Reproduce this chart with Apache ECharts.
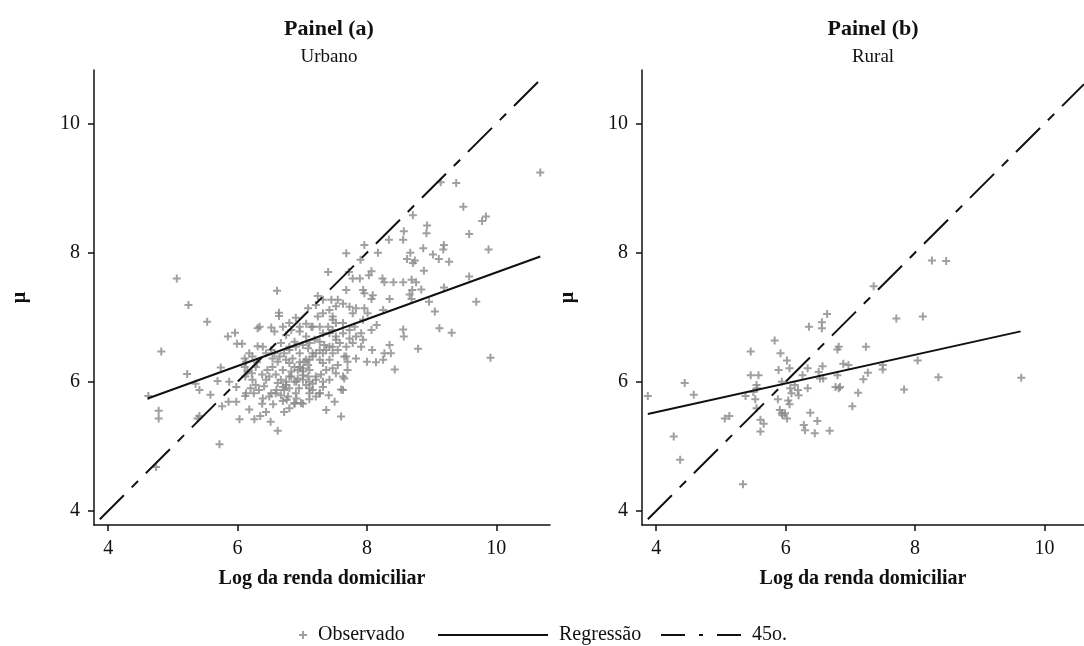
<!DOCTYPE html>
<html>
<head>
<meta charset="utf-8">
<script src="https://cdn.jsdelivr.net/npm/echarts@6/dist/echarts.min.js"></script>
<style>html,body{margin:0;padding:0;background:#fff;}#c{width:1084px;height:646px;}</style>
</head>
<body>
<div id="c"></div>
<script>
// ---- data ----
const panelTitles = ['Painel (a)', 'Painel (b)'];
const panelSubtitles = ['Urbano', 'Rural'];
const xAxisName = 'Log da renda domiciliar';
const yAxisName = 'μ';
const tickValues = [4, 6, 8, 10];
const urbanRange = [3.78, 10.83];
const ruralRange = [3.78, 10.61];

const urbanObserved = [
 [6.12,6.08],[6.23,6.03],[6.28,5.95],[6.20,5.90],[6.25,5.82],[6.33,5.87],[6.38,6.11],[6.44,6.03],[6.49,6.08],[6.46,6.18],
 [6.54,6.23],[6.59,6.11],[6.67,6.03],[6.75,5.95],[6.80,5.90],[6.72,5.87],[6.67,5.79],[6.59,5.82],[6.52,5.82],[6.80,6.08],
 [6.88,6.23],[6.93,6.18],[7.01,6.21],[7.09,6.26],[7.03,6.31],[7.11,6.34],[7.16,6.39],[7.21,6.44],[7.27,6.49],[7.32,6.44],
 [7.37,6.49],[7.42,6.54],[7.34,6.57],[7.27,6.62],[7.19,6.65],[7.11,6.60],[7.01,6.57],[6.90,6.54],[6.80,6.49],[6.72,6.44],
 [6.65,6.39],[6.57,6.44],[6.52,6.49],[6.44,6.44],[6.67,6.60],[6.75,6.72],[6.83,6.80],[6.96,6.85],[7.06,6.90],[7.16,6.85],
 [7.24,7.01],[7.32,7.06],[7.42,7.11],[7.52,7.17],[7.47,7.01],[7.55,7.27],[7.63,7.21],[7.73,7.16],[7.78,7.06],[7.83,7.14],
 [7.81,6.85],[7.73,6.80],[7.63,6.75],[7.52,6.70],[7.58,6.60],[7.47,6.80],[7.40,6.85],[7.32,6.75],[7.27,6.85],[7.01,6.03],
 [7.06,5.95],[7.11,5.90],[7.16,5.97],[7.21,6.03],[7.29,6.11],[7.37,6.18],[7.47,6.21],[7.55,6.26],[6.93,6.05],[6.88,6.00],
 [6.83,6.16],[6.70,6.18],[6.62,6.31],[6.54,6.36],[6.28,6.23],[6.15,6.16],[7.47,6.44],[7.55,6.49],[7.68,6.54],[7.78,6.60],
 [7.83,6.70],[7.91,6.54],[7.73,6.67],[7.63,6.91],[7.52,6.91],[7.94,6.96],[7.96,7.14],[8.01,7.06],[7.42,6.34],[7.32,6.29],
 [7.11,6.18],[6.96,6.44],[6.85,6.36],[7.09,6.52],[7.27,6.34],[7.65,6.39],[7.52,6.13],[7.42,6.03],[7.70,6.18],[6.75,6.34],
 [6.90,5.82],[7.11,5.82],[7.21,5.77],[7.32,5.92],[6.49,5.77],[6.39,5.74],[6.80,5.59],[7.01,6.10],[7.09,6.08],[7.21,7.19],
 [7.32,7.27],[7.45,7.27],[7.47,6.96],[7.09,7.14],[7.14,6.85],[6.96,6.78],[6.88,6.62],[6.80,6.54],[6.70,6.85],[6.57,6.78],
 [7.06,6.70],[6.90,6.99],[6.80,6.91],[6.22,6.13],[6.41,5.93],[6.62,5.98],[6.95,5.90],[6.55,5.65],[6.70,5.70],[6.30,6.30],
 [6.96,6.30],
 [6.80,6.29],[6.96,6.23],[7.01,6.16],[6.83,6.08],[6.91,6.00],[6.75,6.00],[6.70,5.92],[6.60,5.87],[6.78,5.77],[6.88,5.67],
 [6.98,5.67],[7.16,5.87],[7.27,5.82],[7.32,6.00],[7.11,6.00],[7.21,6.08],[7.06,6.34],[7.16,6.44],[7.47,6.54],[7.52,6.65],
 [7.42,6.75],
 [10.68,9.24],[9.14,9.09],[9.38,9.08],[9.49,8.71],[8.71,8.58],[9.84,8.56],[9.78,8.49],[8.93,8.42],[8.92,8.30],[8.57,8.33],
 [8.56,8.20],[9.58,8.29],[8.34,8.20],[7.96,8.12],[8.17,8.00],[9.19,8.12],[9.18,8.05],[9.88,8.05],[7.68,7.99],[8.67,8.00],
 [8.87,8.07],[9.02,7.97],[9.11,7.90],[8.62,7.90],[8.71,7.84],[8.74,7.88],[9.27,7.86],[8.88,7.72],[7.90,7.89],[7.40,7.70],
 [7.72,7.70],[7.78,7.60],[7.89,7.60],[8.07,7.71],[8.03,7.65],[8.24,7.60],[8.27,7.54],[8.41,7.54],[8.56,7.54],[8.69,7.58],
 [8.76,7.54],[8.84,7.43],[8.70,7.42],[9.58,7.63],[9.19,7.46],[6.61,7.41],[7.24,7.33],[7.68,7.42],[7.94,7.42],[7.96,7.37],
 [8.07,7.28],[8.09,7.34],[8.35,7.28],[8.69,7.28],[8.66,7.35],[8.96,7.24],[9.69,7.24],[9.05,7.09],[9.12,6.83],[9.31,6.76],
 [9.91,6.37],[8.56,6.81],[8.57,6.70],[8.79,6.51],[8.43,6.19],[8.25,6.34],[8.27,6.44],[8.35,6.57],[8.37,6.44],[8.14,6.30],
 [8.00,6.31],[8.25,7.11],[8.15,6.88],[8.07,6.80],[8.08,6.49],[7.91,6.75],[7.94,6.65],[7.83,6.36],[7.70,6.31],[7.68,6.39],
 [7.63,6.08],[7.65,6.05],[7.60,5.88],[7.63,5.87],[7.60,5.46],[7.37,5.56],[7.41,5.79],[7.50,5.69],[7.27,5.82],[7.11,5.73],
 [7.01,5.66],[6.62,5.24],[6.51,5.38],[6.26,5.42],[6.35,5.47],[6.44,5.53],[6.18,5.57],[6.03,5.42],[6.38,5.66],[6.72,5.53],
 [6.76,5.72],[6.88,5.66],[6.91,5.74],[6.13,5.82],[6.12,5.78],[5.98,5.69],[5.86,5.69],[5.76,5.62],[5.72,5.03],[5.58,5.80],
 [5.41,5.87],[5.38,5.43],[5.41,5.47],[5.35,5.97],[5.22,6.12],[4.82,6.47],[5.06,7.60],[5.24,7.19],[5.53,6.93],[4.78,5.55],
 [4.78,5.43],[4.62,5.78],[4.74,4.68],[5.69,6.01],[5.74,6.22],[5.85,6.70],[5.96,6.76],[5.99,6.59],[6.07,6.59],[5.87,6.00],
 [5.98,5.92],[6.11,6.36],[6.13,6.31],[6.18,6.44],[6.23,6.39],[6.11,6.23],[6.31,6.83],[6.34,6.85],[6.52,6.84],[6.64,7.02],
 [6.64,7.07],[6.31,6.55],[6.39,6.54]
];

const ruralObserved = [
 [3.87,5.78],[4.27,5.15],[4.37,4.79],[4.44,5.98],[4.58,5.80],[5.06,5.43],[5.13,5.47],[5.34,4.41],[5.38,5.78],[5.46,6.47],
 [5.46,6.10],[5.58,6.10],[5.50,5.84],[5.53,5.73],[5.55,5.95],[5.56,5.90],[5.55,5.59],[5.61,5.41],[5.66,5.35],[5.61,5.23],
 [5.83,6.64],[5.89,6.18],[5.88,5.73],[5.92,6.44],[5.94,6.00],[5.91,5.56],[5.94,5.51],[5.99,5.51],[6.02,5.43],[5.95,5.48],
 [6.02,6.33],[6.06,6.21],[6.04,5.71],[6.06,5.65],[6.07,5.90],[6.09,5.82],[6.19,5.87],[6.20,5.79],[6.14,5.95],[6.26,6.10],
 [6.34,5.90],[6.34,6.21],[6.36,6.85],[6.38,5.52],[6.28,5.33],[6.30,5.25],[6.45,5.20],[6.49,5.39],[6.51,6.15],[6.53,6.05],
 [6.57,6.24],[6.56,6.92],[6.56,6.83],[6.58,6.05],[6.64,7.05],[6.68,5.24],[6.80,6.50],[6.82,6.54],[6.80,6.10],[6.77,5.92],
 [6.84,5.92],[6.82,5.90],[6.89,6.28],[6.97,6.26],[7.03,5.62],[7.12,5.83],[7.20,6.04],[7.24,6.54],[7.27,6.14],[7.36,7.48],
 [7.50,6.26],[7.50,6.19],[7.71,6.98],[7.83,5.88],[8.04,6.33],[8.12,7.01],[8.26,7.88],[8.36,6.07],[8.48,7.87],[9.64,6.06]
];

const urbanRegression = [[4.61,5.74],[10.68,7.94]];
const ruralRegression = [[3.87,5.50],[9.63,6.78]];
const urbanLine45 = [[3.87,3.87],[10.68,10.68]];
const ruralLine45 = [[3.87,3.87],[10.61,10.61]];

// ---- styling ----
const FONT = '"Liberation Serif", "DejaVu Serif", serif';
const INK = '#111';
const GRAY = '#888888';
const PLUS = 'path://M3,0H5V3H8V5H5V8H3V5H0V3H3Z';
const DASH45 = [34, 11, 9, 11];
const NOSYM = {color:'rgba(0,0,0,0)', borderColor:'rgba(0,0,0,0)', borderWidth:0};

const grids = [
  {left: 94, top: 70, right: 534, bottom: 121},
  {left: 642, top: 70, right: 0, bottom: 121}
];
const ranges = [urbanRange, ruralRange];

function xAx(i){
  return {
    type:'value', gridIndex:i, min:ranges[i][0], max:ranges[i][1],
    name:xAxisName, nameLocation:'middle', nameGap:44,
    nameTextStyle:{fontFamily:FONT, fontWeight:'bold', fontSize:20, color:INK},
    axisLine:{show:true, lineStyle:{color:INK, width:1.5}},
    axisTick:{show:true, length:6, lineStyle:{color:INK, width:1.5}, customValues:tickValues},
    axisLabel:{fontFamily:FONT, fontSize:20, color:INK, margin:14, customValues:tickValues},
    splitLine:{show:false}
  };
}
function yAx(i){
  return {
    type:'value', gridIndex:i, min:urbanRange[0], max:urbanRange[1],
    name:yAxisName, nameLocation:'middle', nameGap:64, nameRotate:90,
    nameTextStyle:{fontFamily:FONT, fontWeight:'bold', fontSize:20, color:INK},
    axisLine:{show:true, lineStyle:{color:INK, width:1.5}},
    axisTick:{show:true, length:6, lineStyle:{color:INK, width:1.5}, customValues:tickValues},
    axisLabel:{fontFamily:FONT, fontSize:20, color:INK, margin:14, customValues:tickValues},
    splitLine:{show:false}
  };
}

const titleCenters = [324, 868];
const chart = echarts.init(document.getElementById('c'), null, {renderer:'canvas'});
chart.setOption({
  animation:false,
  backgroundColor:'#fff',
  title: panelTitles.map((t,i)=>({
    text:t, subtext:panelSubtitles[i], left:titleCenters[i], top:13, textAlign:'center', itemGap:8,
    textStyle:{fontFamily:FONT, fontWeight:'bold', fontSize:22, color:INK},
    subtextStyle:{fontFamily:FONT, fontSize:19, color:INK}
  })),
  grid: grids,
  xAxis:[xAx(0), xAx(1)],
  yAxis:[yAx(0), yAx(1)],
  legend:[
    {data:[{name:'Observado', icon:PLUS}], left:294, top:620, itemWidth:8, itemHeight:8,
     textStyle:{fontFamily:FONT, fontSize:20, color:INK, padding:[0,0,0,6]}},
    {data:['Regressão'], left:432, top:620, itemWidth:110, itemHeight:10, itemStyle:NOSYM,
     textStyle:{fontFamily:FONT, fontSize:20, color:INK, padding:[0,0,0,6]}},
    {data:['45o.'], left:655, top:620, itemWidth:80, itemHeight:10, itemStyle:NOSYM,
     lineStyle:{type:[24,14,4,14]},
     textStyle:{fontFamily:FONT, fontSize:20, color:INK, padding:[0,0,0,6]}}
  ],
  series:[
    {name:'Observado', type:'scatter', xAxisIndex:0, yAxisIndex:0, data:urbanObserved,
     symbol:PLUS, symbolSize:8, itemStyle:{color:GRAY}, z:2},
    {name:'Observado', type:'scatter', xAxisIndex:1, yAxisIndex:1, data:ruralObserved,
     symbol:PLUS, symbolSize:8, itemStyle:{color:GRAY}, z:2},
    {name:'Regressão', type:'line', xAxisIndex:0, yAxisIndex:0, data:urbanRegression,
     symbol:'none', itemStyle:{color:INK}, lineStyle:{color:INK, width:2}, z:3},
    {name:'Regressão', type:'line', xAxisIndex:1, yAxisIndex:1, data:ruralRegression,
     symbol:'none', itemStyle:{color:INK}, lineStyle:{color:INK, width:2}, z:3},
    {name:'45o.', type:'line', xAxisIndex:0, yAxisIndex:0, data:urbanLine45,
     symbol:'none', itemStyle:{color:INK}, lineStyle:{color:INK, width:2, type:DASH45}, z:3},
    {name:'45o.', type:'line', xAxisIndex:1, yAxisIndex:1, data:ruralLine45,
     symbol:'none', itemStyle:{color:INK}, lineStyle:{color:INK, width:2, type:DASH45}, z:3}
  ]
});
</script>
</body>
</html>
